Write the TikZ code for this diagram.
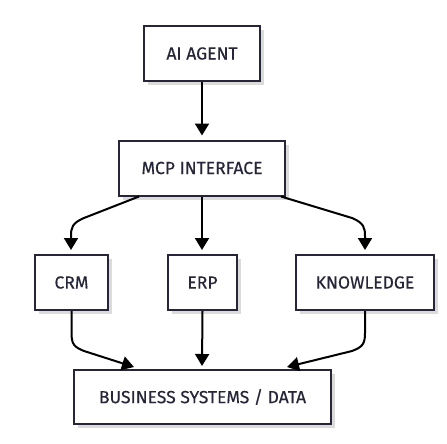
\documentclass[tikz,border=0pt]{standalone}
\usepackage{fontspec}
\setmainfont{Fira Sans}[FakeBold=0.35]
\usetikzlibrary{arrows.meta,shadows,calc}
\definecolor{navy}{HTML}{262638}
\tikzset{
  box/.style={draw=navy, line width=2pt, fill=white, text=navy, inner sep=0pt,
    font=\fontsize{17.5}{20}\selectfont,
    general shadow={fill=black!14, shadow xshift=4pt, shadow yshift=-4pt}},
  conn/.style={line width=2pt, black, -{Triangle[width=14pt,length=12pt]}}
}
\begin{document}
\begin{tikzpicture}[x=1pt,y=-1pt]
\useasboundingbox (0,0) rectangle (447,444);
\node[box, minimum width=116pt, minimum height=55pt] (agent) at (202,53.5) {AI AGENT};
\node[box, minimum width=166pt, minimum height=55pt] (mcp) at (202,168) {MCP INTERFACE};
\node[box, minimum width=73pt, minimum height=55pt] (crm) at (71.5,282.5) {CRM};
\node[box, minimum width=69pt, minimum height=55pt] (erp) at (202.5,282.5) {ERP};
\node[box, minimum width=138pt, minimum height=55pt] (kn) at (365,282.5) {KNOWLEDGE};
\node[box, minimum width=257pt, minimum height=54pt] (biz) at (202.5,397) {BUSINESS SYSTEMS / DATA};
\coordinate (t1) at (71,250);
\coordinate (t2) at (202,250);
\coordinate (t3) at (365,250);
\coordinate (b1) at (134,367);
\coordinate (b2) at (202,366);
\coordinate (b3) at (287,367);
\draw[conn] (agent.south) -- ($(mcp.north)+(0,-4)$);
\draw[conn] ($(mcp.south west)+(21,0)$) -- (84,218) .. controls (72,223) and (71,228) .. (71,236) -- (t1);
\draw[conn] (mcp.south) -- (t2);
\draw[conn] ($(mcp.south east)+(-5,0)$) -- (352,218) .. controls (364,223) and (365,228) .. (365,236) -- (t3);
\draw[conn] (crm.south) -- (71.5,333) .. controls (71.5,344) and (74,347) .. (84,351) -- (b1);
\draw[conn] (erp.south) -- (b2);
\draw[conn] (kn.south) -- (365,333) .. controls (365,344) and (362.5,347) .. (352,351) -- (b3);
\end{tikzpicture}
\end{document}
